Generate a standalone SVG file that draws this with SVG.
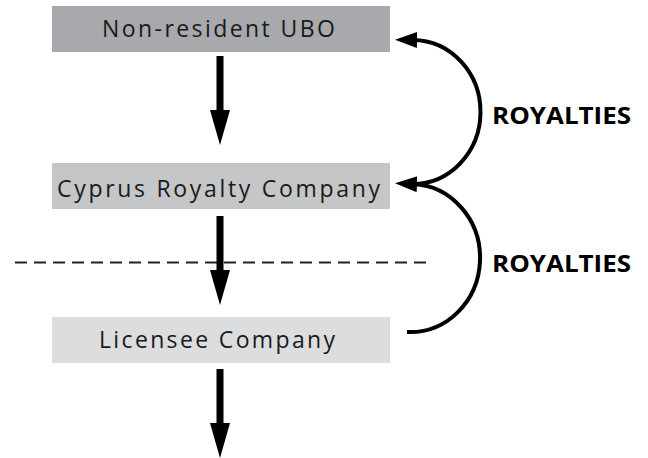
<svg xmlns="http://www.w3.org/2000/svg" width="648" height="458" viewBox="0 0 648 458">
  <style>
    .lbl { font-family: "Open Sans", "Liberation Sans", sans-serif; font-size: 23px; fill: #1a1a1a; }
    .roy { font-family: "Open Sans", "Liberation Sans", sans-serif; font-size: 24px; font-weight: bold; fill: #000; }
    .flow { stroke: #000; stroke-width: 7; fill: none; marker-end: url(#bighead); }
    .arc { stroke: #000; stroke-width: 4; fill: none; marker-end: url(#archead); }
  </style>
  <defs>
    <marker id="bighead" markerUnits="userSpaceOnUse" markerWidth="40" markerHeight="24" refX="0" refY="10" orient="auto">
      <path d="M0,0 L35,10 L0,20 z" fill="#000"/>
    </marker>
    <marker id="archead" markerUnits="userSpaceOnUse" markerWidth="26" markerHeight="20" refX="4" refY="8" orient="auto">
      <path d="M0,0 L22,8 L0,16 z" fill="#000"/>
    </marker>
  </defs>
  <rect width="648" height="458" fill="#fff"/>
  <line x1="15" y1="262.5" x2="432" y2="262.5" stroke="#222" stroke-width="2" stroke-dasharray="12 7"/>
  <g id="node-ubo">
    <rect x="52" y="6" width="338" height="46" fill="#a8a9ac"/>
    <text class="lbl" x="102" y="37" textLength="233" lengthAdjust="spacing">Non-resident UBO</text>
  </g>
  <g id="node-cyprus">
    <rect x="52" y="163" width="338" height="46" fill="#c5c6c8"/>
    <text class="lbl" x="57" y="197" textLength="323" lengthAdjust="spacing">Cyprus Royalty Company</text>
  </g>
  <g id="node-licensee">
    <rect x="52" y="317" width="338" height="46" fill="#dcdddf"/>
    <text class="lbl" x="99" y="348" textLength="236" lengthAdjust="spacing">Licensee Company</text>
  </g>
  <g id="connectors">
    <line class="flow" x1="220" y1="56" x2="220" y2="110"/>
    <line class="flow" x1="220" y1="216" x2="220" y2="270"/>
    <line class="flow" x1="220" y1="369" x2="220" y2="423"/>
    <path class="arc" d="M407 332 A70 74 0 0 0 413 184"/>
    <path class="arc" d="M412 184 A68 72 0 0 0 413 40"/>
  </g>
  <g id="labels">
    <text class="roy" x="492" y="124" textLength="139" lengthAdjust="spacingAndGlyphs">ROYALTIES</text>
    <text class="roy" x="492" y="272" textLength="139" lengthAdjust="spacingAndGlyphs">ROYALTIES</text>
  </g>
</svg>
